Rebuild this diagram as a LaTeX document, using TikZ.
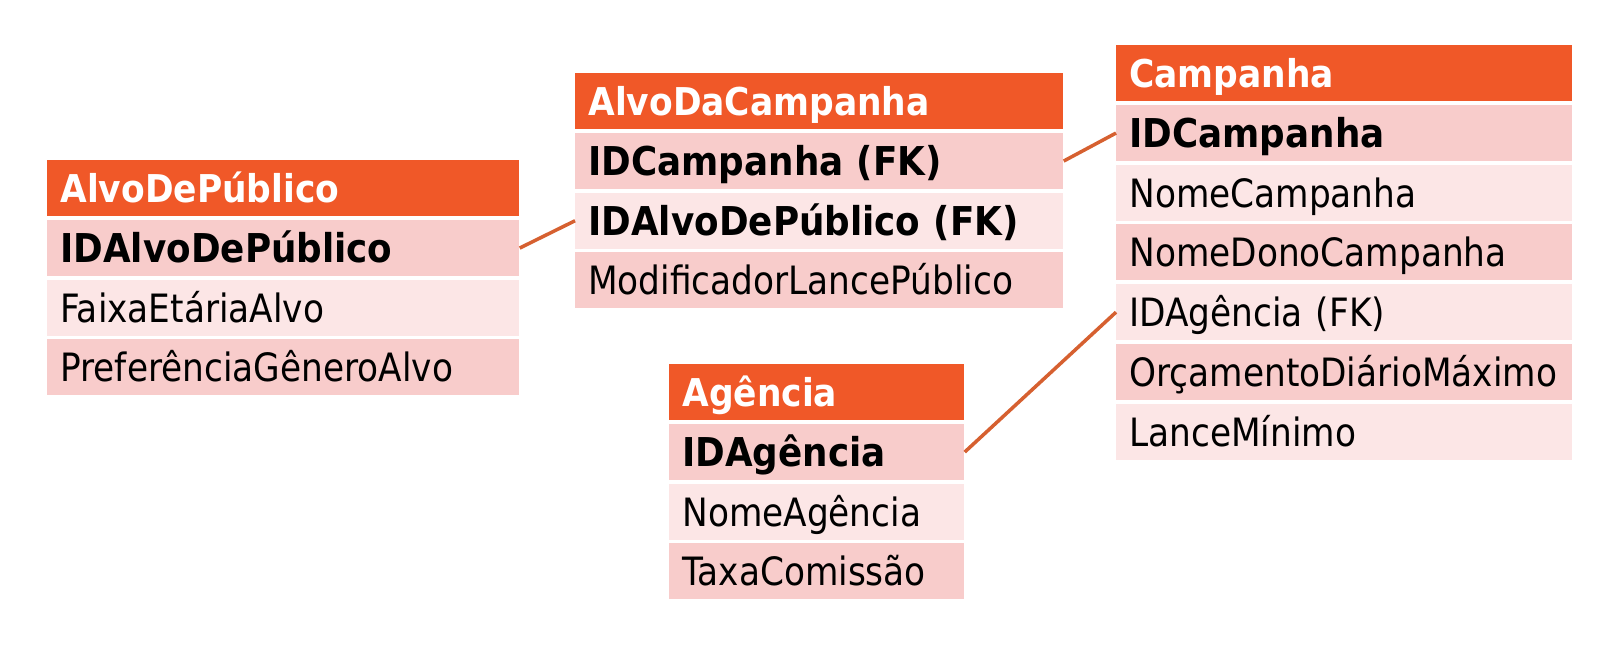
\documentclass[tikz,border=0pt]{standalone}
\usepackage{fontspec}
\setmainfont[FakeStretch=0.88]{DejaVu Sans}
\newfontfamily\keyfont[FakeStretch=0.9]{DejaVu Sans}
\usetikzlibrary{positioning}
\definecolor{hdrorange}{RGB}{240,88,40}
\definecolor{rowdark}{RGB}{248,204,203}
\definecolor{rowlight}{RGB}{252,230,230}
\definecolor{linkorange}{RGB}{214,96,48}
\begin{document}
\begin{tikzpicture}[
  cell/.style={inner xsep=0.26cm, inner ysep=0pt, minimum height=1.12cm,
    text height=0.64cm, text depth=0.06cm, align=left,
    font=\fontsize{22.2}{27}\selectfont},
  key/.style={font=\keyfont\fontsize{22.6}{27}\selectfont\bfseries},
  hdr/.style={cell, fill=hdrorange, text=white,
    font=\keyfont\fontsize{21.8}{27}\selectfont\bfseries},
  darkrow/.style={cell, fill=rowdark},
  lightrow/.style={cell, fill=rowlight},
  link/.style={draw=linkorange, line width=2pt}
]
\useasboundingbox (0,0) rectangle (32.42,13.12);
% AlvoDePublico
\begin{scope}[every node/.append style={text width=8.92cm}]
\node[hdr, anchor=north west] (adp) at (0.94,9.92) {AlvoDePúblico};
\node[darkrow, key, below=0.06cm of adp] (adp1) {IDAlvoDePúblico};
\node[lightrow, below=0.06cm of adp1] (adp2) {FaixaEtáriaAlvo};
\node[darkrow, below=0.06cm of adp2] (adp3) {PreferênciaGêneroAlvo};
\end{scope}
% AlvoDaCampanha
\begin{scope}[every node/.append style={text width=9.24cm}]
\node[hdr, anchor=north west] (adc) at (11.50,11.66) {AlvoDaCampanha};
\node[darkrow, key, below=0.06cm of adc] (adc1) {IDCampanha (FK)};
\node[lightrow, key, below=0.06cm of adc1] (adc2) {IDAlvoDePúblico (FK)};
\node[darkrow, below=0.06cm of adc2] (adc3) {ModificadorLancePúblico};
\end{scope}
% Campanha
\begin{scope}[every node/.append style={text width=8.60cm}]
\node[hdr, anchor=north west] (cmp) at (22.32,12.22) {Campanha};
\node[darkrow, key, below=0.06cm of cmp] (cmp1) {IDCampanha};
\node[lightrow, below=0.06cm of cmp1] (cmp2) {NomeCampanha};
\node[darkrow, below=0.06cm of cmp2] (cmp3) {NomeDonoCampanha};
\node[lightrow, below=0.06cm of cmp3] (cmp4) {IDAgência (FK)};
\node[darkrow, below=0.06cm of cmp4] (cmp5) {OrçamentoDiárioMáximo};
\node[lightrow, below=0.06cm of cmp5] (cmp6) {LanceMínimo};
\end{scope}
% Agencia
\begin{scope}[every node/.append style={text width=5.38cm}]
\node[hdr, anchor=north west] (ag) at (13.38,5.84) {Agência};
\node[darkrow, key, below=0.06cm of ag] (ag1) {IDAgência};
\node[lightrow, below=0.06cm of ag1] (ag2) {NomeAgência};
\node[darkrow, below=0.06cm of ag2] (ag3) {TaxaComissão};
\end{scope}
% links
\draw[link] (adp1.east) -- (adc2.west);
\draw[link] (adc1.east) -- (cmp1.west);
\draw[link] (ag1.east) -- (cmp4.west);
\end{tikzpicture}
\end{document}
